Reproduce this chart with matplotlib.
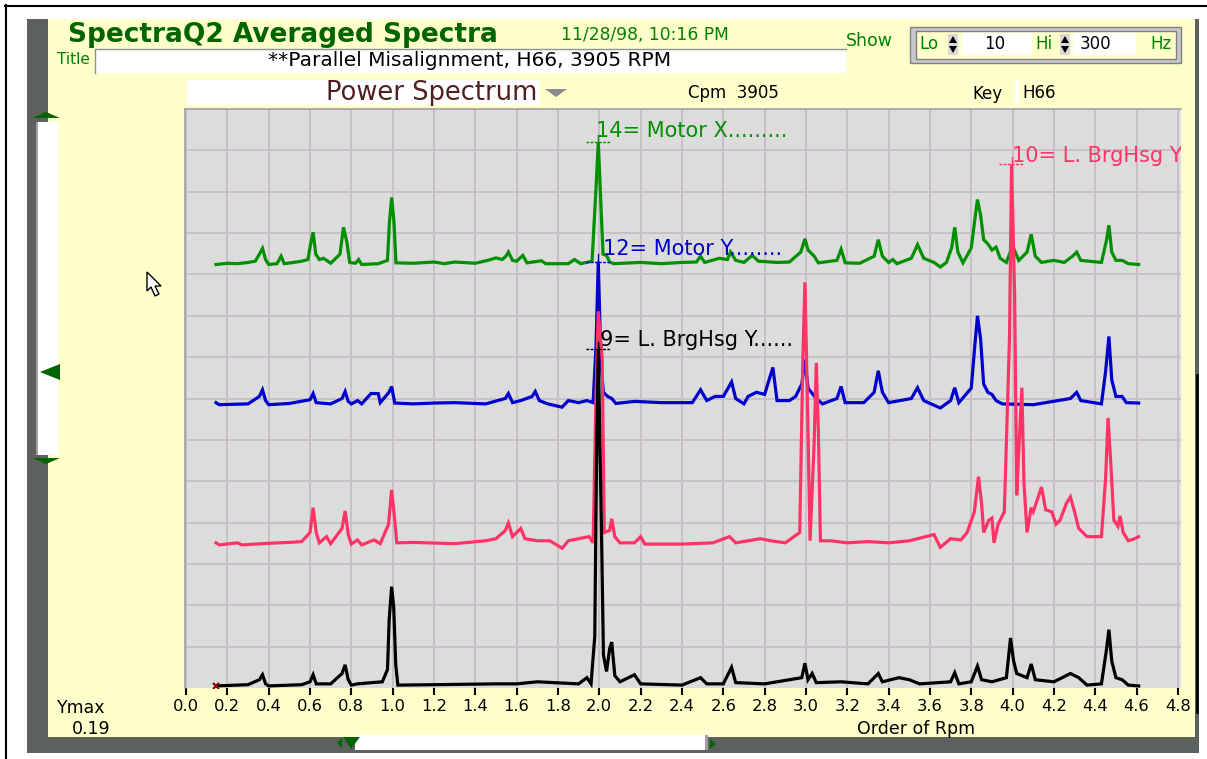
import numpy as np
import matplotlib.pyplot as plt
from matplotlib.patches import Rectangle, Polygon

# screen size in pixels (figure is drawn 1:1 at 100 dpi)
W, H = 1207, 759

YELLOW = '#ffffcc'
FRAME = '#5d615d'
DKGREEN = '#006400'
GREEN_TXT = '#008000'

TITLE = "SpectraQ2 Averaged Spectra"
STAMP = "11/28/98, 10:16 PM"
RUN_TITLE = "**Parallel Misalignment, H66, 3905 RPM"
LO_HZ, HI_HZ = "10", "300"
CPM = "3905"
KEY = "H66"
YMAX = "0.19"

# spectra: (order of rpm, amplitude in grid divisions above own baseline)
motor_x = [(0.145, 0.0), (0.20, 0.03), (0.25, 0.02), (0.30, 0.05), (0.335, 0.08), (0.355, 0.25), (0.37, 0.39),
           (0.385, 0.12), (0.40, 0.0), (0.44, 0.02), (0.46, 0.20), (0.475, 0.02), (0.52, 0.05), (0.56, 0.08),
           (0.59, 0.12), (0.603, 0.5), (0.615, 0.78), (0.628, 0.25), (0.645, 0.12), (0.665, 0.15), (0.68, 0.10),
           (0.70, 0.03), (0.745, 0.25), (0.762, 0.9), (0.778, 0.55), (0.792, 0.05), (0.82, 0.03), (0.835, 0.12),
           (0.85, 0.0), (0.93, 0.02), (0.975, 0.1), (0.984, 1.0), (0.995, 1.62), (1.006, 1.05), (1.016, 0.04),
           (1.10, 0.03), (1.20, 0.06), (1.25, 0.02), (1.30, 0.06), (1.40, 0.03), (1.46, 0.10), (1.50, 0.16),
           (1.53, 0.12), (1.548, 0.2), (1.56, 0.3), (1.58, 0.1), (1.60, 0.08), (1.63, 0.22), (1.65, 0.04),
           (1.72, 0.09), (1.74, 0.02), (1.85, 0.02), (1.88, 0.12), (1.91, 0.02), (1.965, 0.08), (1.984, 1.85),
           (1.995, 2.95), (2.008, 1.4), (2.018, 0.25), (2.035, 0.22), (2.05, 0.06), (2.07, 0.02), (2.20, 0.05),
           (2.30, 0.02), (2.40, 0.05), (2.47, 0.06), (2.49, 0.2), (2.51, 0.05), (2.58, 0.15), (2.62, 0.12),
           (2.635, 0.3), (2.66, 0.1), (2.70, 0.05), (2.74, 0.22), (2.77, 0.08), (2.86, 0.05), (2.92, 0.06),
           (2.975, 0.3), (2.995, 0.62), (3.01, 0.35), (3.04, 0.2), (3.06, 0.04), (3.15, 0.1), (3.17, 0.37),
           (3.19, 0.04), (3.26, 0.03), (3.33, 0.2), (3.35, 0.6), (3.37, 0.2), (3.40, 0.05), (3.42, 0.12),
           (3.44, 0.02), (3.51, 0.15), (3.54, 0.48), (3.57, 0.15), (3.62, 0.05), (3.65, -0.06), (3.68, 0.05),
           (3.705, 0.4), (3.72, 0.9), (3.735, 0.3), (3.76, 0.04), (3.80, 0.4), (3.815, 1.0), (3.83, 1.57),
           (3.845, 1.2), (3.86, 0.6), (3.88, 0.5), (3.90, 0.35), (3.92, 0.42), (3.94, 0.15), (3.97, 0.05),
           (4.0, 0.45), (4.03, 0.1), (4.07, 0.3), (4.09, 0.73), (4.11, 0.2), (4.14, 0.05), (4.20, 0.1),
           (4.25, 0.05), (4.29, 0.2), (4.31, 0.3), (4.33, 0.1), (4.43, 0.05), (4.455, 0.6), (4.466, 0.95),
           (4.48, 0.3), (4.50, 0.1), (4.53, 0.1), (4.56, 0.02), (4.61, 0.0)]

motor_y = [(0.145, 0.05), (0.16, 0.0), (0.30, 0.02), (0.355, 0.2), (0.37, 0.36), (0.385, 0.1), (0.40, 0.0),
           (0.50, 0.03), (0.60, 0.12), (0.615, 0.27), (0.63, 0.05), (0.70, 0.02), (0.755, 0.15), (0.77, 0.32),
           (0.785, 0.08), (0.80, 0.02), (0.83, 0.1), (0.85, 0.02), (0.895, 0.27), (0.93, 0.27), (0.94, 0.05),
           (0.982, 0.3), (0.995, 0.44), (1.01, 0.04), (1.10, 0.02), (1.20, 0.04), (1.30, 0.05), (1.45, 0.02),
           (1.545, 0.15), (1.56, 0.27), (1.58, 0.05), (1.62, 0.1), (1.675, 0.2), (1.69, 0.32), (1.71, 0.1),
           (1.75, 0.02), (1.82, -0.06), (1.85, 0.1), (1.90, 0.05), (1.94, 0.1), (1.97, 0.05), (1.984, 1.4),
           (1.995, 3.46), (2.008, 1.0), (2.02, 0.3), (2.04, 0.2), (2.06, 0.15), (2.08, 0.03), (2.17, 0.08),
           (2.30, 0.05), (2.45, 0.05), (2.49, 0.36), (2.52, 0.1), (2.56, 0.2), (2.60, 0.2), (2.64, 0.55),
           (2.66, 0.15), (2.70, 0.02), (2.72, 0.2), (2.76, 0.3), (2.80, 0.25), (2.84, 0.9), (2.86, 0.1),
           (2.92, 0.1), (2.95, 0.2), (2.98, 0.5), (2.995, 1.09), (3.01, 0.4), (3.05, 0.15), (3.08, 0.02),
           (3.15, 0.15), (3.17, 0.44), (3.19, 0.05), (3.28, 0.05), (3.33, 0.3), (3.35, 0.82), (3.37, 0.3),
           (3.40, 0.05), (3.51, 0.15), (3.54, 0.41), (3.57, 0.1), (3.65, -0.08), (3.70, 0.1), (3.72, 0.41),
           (3.74, 0.05), (3.80, 0.4), (3.815, 1.3), (3.83, 2.15), (3.845, 1.6), (3.86, 0.5), (3.88, 0.3),
           (3.90, 0.25), (3.92, 0.1), (3.95, 0.02), (4.10, 0.0), (4.28, 0.15), (4.31, 0.3), (4.33, 0.1),
           (4.43, 0.02), (4.45, 0.8), (4.466, 1.65), (4.48, 0.6), (4.50, 0.2), (4.53, 0.2), (4.55, 0.05),
           (4.61, 0.04)]

brg_x = [(0.145, 0.05), (0.16, 0.0), (0.25, 0.05), (0.27, 0.0), (0.40, 0.04), (0.50, 0.06), (0.56, 0.08),
         (0.60, 0.3), (0.615, 0.9), (0.63, 0.3), (0.645, 0.05), (0.68, 0.2), (0.70, 0.03), (0.755, 0.4),
         (0.77, 0.82), (0.785, 0.25), (0.80, 0.02), (0.83, 0.12), (0.85, 0.0), (0.91, 0.12), (0.94, 0.03),
         (0.98, 0.5), (0.995, 1.33), (1.01, 0.6), (1.02, 0.05), (1.10, 0.06), (1.30, 0.03), (1.45, 0.1),
         (1.50, 0.15), (1.545, 0.35), (1.56, 0.53), (1.58, 0.2), (1.62, 0.4), (1.64, 0.15), (1.70, 0.1),
         (1.76, 0.1), (1.82, -0.08), (1.85, 0.1), (1.90, 0.15), (1.95, 0.2), (1.97, 0.05), (1.984, 3.6),
         (1.995, 5.65), (2.014, 4.5), (2.024, 0.3), (2.05, 0.35), (2.06, 0.63), (2.075, 0.2), (2.10, 0.05),
         (2.17, 0.05), (2.20, 0.2), (2.22, 0.02), (2.40, 0.02), (2.55, 0.05), (2.63, 0.2), (2.66, 0.05),
         (2.78, 0.15), (2.83, 0.1), (2.90, 0.05), (2.97, 0.3), (2.985, 4.5), (2.995, 6.35), (3.005, 4.0),
         (3.02, 0.1), (3.04, 2.5), (3.05, 4.4), (3.06, 2.8), (3.07, 0.1), (3.12, 0.1), (3.20, 0.05),
         (3.30, 0.08), (3.40, 0.05), (3.50, 0.1), (3.62, 0.25), (3.65, -0.06), (3.70, 0.15), (3.75, 0.12),
         (3.78, 0.3), (3.815, 0.8), (3.835, 1.65), (3.85, 1.0), (3.86, 0.3), (3.885, 0.6), (3.90, 0.65),
         (3.91, 0.05), (3.93, 0.5), (3.96, 0.8), (3.985, 5.0), (3.995, 9.2), (4.01, 6.0), (4.02, 1.2),
         (4.03, 2.3), (4.045, 3.8), (4.055, 1.5), (4.07, 0.3), (4.09, 0.9), (4.10, 0.8), (4.14, 1.4),
         (4.16, 0.85), (4.19, 0.8), (4.21, 0.5), (4.23, 0.6), (4.26, 1.0), (4.28, 1.16), (4.30, 0.8),
         (4.32, 0.4), (4.36, 0.2), (4.43, 0.2), (4.45, 1.6), (4.462, 3.07), (4.475, 2.0), (4.49, 0.6),
         (4.51, 0.45), (4.52, 0.7), (4.535, 0.3), (4.56, 0.1), (4.59, 0.15), (4.61, 0.2)]

brg_y = [(0.145, 0.0), (0.30, 0.03), (0.355, 0.15), (0.37, 0.27), (0.385, 0.05), (0.40, 0.0), (0.56, 0.03),
         (0.60, 0.1), (0.615, 0.27), (0.63, 0.05), (0.70, 0.05), (0.755, 0.3), (0.77, 0.51), (0.785, 0.15),
         (0.80, 0.02), (0.83, 0.05), (0.90, 0.08), (0.95, 0.1), (0.975, 0.4), (0.983, 1.6), (0.995, 2.4),
         (1.005, 1.9), (1.015, 0.5), (1.025, 0.02), (1.20, 0.03), (1.50, 0.05), (1.60, 0.05), (1.70, 0.1),
         (1.90, 0.05), (1.94, 0.2), (1.96, 0.05), (1.978, 1.2), (1.986, 5.2), (1.995, 8.14), (2.01, 3.9),
         (2.02, 0.75), (2.035, 0.35), (2.05, 0.9), (2.06, 1.06), (2.075, 0.25), (2.10, 0.1), (2.17, 0.27),
         (2.20, 0.05), (2.40, 0.02), (2.49, 0.2), (2.52, 0.05), (2.60, 0.05), (2.64, 0.45), (2.66, 0.08),
         (2.80, 0.05), (2.98, 0.2), (2.995, 0.55), (3.01, 0.15), (3.03, 0.3), (3.05, 0.08), (3.17, 0.1),
         (3.30, 0.05), (3.35, 0.3), (3.37, 0.1), (3.45, 0.2), (3.50, 0.15), (3.55, 0.05), (3.70, 0.1),
         (3.72, 0.32), (3.74, 0.05), (3.80, 0.1), (3.83, 0.48), (3.85, 0.15), (3.90, 0.1), (3.97, 0.2),
         (3.99, 1.16), (4.005, 0.6), (4.02, 0.3), (4.07, 0.2), (4.09, 0.53), (4.11, 0.15), (4.20, 0.1),
         (4.28, 0.3), (4.30, 0.25), (4.32, 0.2), (4.36, 0.02), (4.43, 0.05), (4.455, 0.9), (4.466, 1.36),
         (4.48, 0.6), (4.50, 0.2), (4.53, 0.15), (4.56, 0.02), (4.61, 0.0)]

# waterfall: label, points, colour, baseline offset, cursor order
traces = [
    ("14= Motor X.........", motor_x, '#009000', 10.24, 1.995),
    ("12= Motor Y........", motor_y, '#0000cc', 6.85, 1.995),
    ("10= L. BrgHsg Y", brg_x, '#ff3366', 3.46, 3.995),
    ("9= L. BrgHsg Y......", brg_y, '#000000', 0.05, 1.995),
]
label_dx = {"14": -0.01, "12": 0.025, "10": 0.0, "9": 0.01}
label_dy = {"14": 0.27, "12": 0.3, "10": 0.2, "9": 0.22}

fig = plt.figure(figsize=(W / 100, H / 100), dpi=100)
fig.patch.set_facecolor('white')
bg = fig.add_axes([0, 0, 1, 1])
bg.set_xlim(0, W)
bg.set_ylim(H, 0)
bg.axis('off')


def box(x0, y0, x1, y1, fc, ec='none', lw=0):
    bg.add_patch(Rectangle((x0, y0), x1 - x0, y1 - y0, facecolor=fc, edgecolor=ec, lw=lw))


def tri(pts, fc):
    bg.add_patch(Polygon(pts, closed=True, facecolor=fc, edgecolor='none'))


# window frame
bg.plot([5, W], [6, 6], color='black', lw=1.5)
bg.plot([6, 6], [5, H], color='black', lw=1.5)
box(27, 19, 48, 753, FRAME)
box(27, 737, 1199, 753, FRAME)
box(1195, 19, 1199, 753, FRAME)
box(48, 19, 1195, 737, YELLOW)
bg.plot([1197, 1197], [375, 712], color='black', lw=2)

# left scroll bar
box(36, 122, 58, 455, 'white')
box(36, 122, 38, 455, '#a0a0a0')
tri([(33, 118), (60, 118), (46, 112)], DKGREEN)
tri([(33, 458), (60, 458), (46, 464)], DKGREEN)
tri([(40, 372), (60, 364), (60, 380)], DKGREEN)

# bottom scroll bar
box(355, 735, 705, 750, 'white')
box(705, 735, 708, 750, '#a0a0a0')
tri([(343, 737), (360, 737), (351, 749)], DKGREEN)
tri([(337, 743), (342, 738), (342, 748)], DKGREEN)
tri([(710, 739), (716, 744), (710, 749)], DKGREEN)

# header
bg.text(68, 35, TITLE, fontsize=19, fontweight='bold', color=DKGREEN, va='center', ha='left')
bg.text(561, 35, STAMP, fontsize=12.3, color=GREEN_TXT, va='center', ha='left')
bg.text(846, 41, "Show", fontsize=12.5, color=GREEN_TXT, va='center', ha='left')

box(910, 27, 1181, 63, '#c8c8c8', ec='#808080', lw=1)
box(916, 31, 1176, 59, YELLOW, ec='#808080', lw=1)
bg.text(919, 44, "Lo", fontsize=12, color=GREEN_TXT, va='center', ha='left')
bg.text(1035, 44, "Hi", fontsize=12, color=GREEN_TXT, va='center', ha='left')
bg.text(1150, 44, "Hz", fontsize=12, color=GREEN_TXT, va='center', ha='left')
for sx in (948, 1060):
    box(sx, 34, sx + 10, 55, '#d8d8d8')
    tri([(sx + 1, 43), (sx + 9, 43), (sx + 5, 36)], 'black')
    tri([(sx + 1, 46), (sx + 9, 46), (sx + 5, 53)], 'black')
box(962, 33, 1032, 55, 'white')
box(1073, 33, 1136, 55, 'white')
bg.text(1005, 44, LO_HZ, fontsize=12, color='black', va='center', ha='right')
bg.text(1080, 44, HI_HZ, fontsize=12, color='black', va='center', ha='left')

bg.text(57, 60, "Title", fontsize=11, color=GREEN_TXT, va='center', ha='left')
box(95, 49, 846, 73, 'white')
bg.plot([95, 95, 846], [73, 49, 49], color='#909090', lw=1)
bg.text(470, 61, RUN_TITLE, fontsize=14.5, color='black', va='center', ha='center')

box(187, 80, 540, 105, 'white')
bg.text(537, 93, "Power Spectrum", fontsize=18.5, color='#502020', va='center', ha='right')
tri([(545, 89), (567, 89), (556, 97)], '#8c8c8c')
bg.text(688, 93, "Cpm  " + CPM, fontsize=12, color='black', va='center', ha='left')
bg.text(972, 94, "Key", fontsize=12, color='black', va='center', ha='left')
box(1015, 80, 1019, 104, 'white')
bg.text(1022, 93, KEY, fontsize=12, color='black', va='center', ha='left')

# footer
bg.text(57, 708, "Ymax", fontsize=12.5, color='black', va='center', ha='left')
bg.text(72, 729, YMAX, fontsize=12.5, color='black', va='center', ha='left')
bg.text(916, 729, "Order of Rpm", fontsize=12.5, color='black', va='center', ha='center')

# mouse pointer
bg.add_patch(Polygon([(147, 272), (147, 291), (151, 287), (155, 296), (159, 294), (155, 286), (161, 286)],
                     closed=True, facecolor='white', edgecolor='black', lw=1, zorder=5))

# spectrum panel
ax = fig.add_axes([185 / W, (H - 688) / H, (1181 - 185) / W, (688 - 109) / H])
ax.set_facecolor('#dcdcdc')
ax.set_xlim(-0.005, 4.815)
ax.set_ylim(0, 14)
ticks = np.arange(0, 4.81, 0.2)
ax.set_xticks(ticks)
ax.set_xticklabels(["%.1f" % t for t in ticks])
ax.set_yticks(np.arange(1, 14))
ax.tick_params(axis='y', left=False, labelleft=False)
ax.tick_params(axis='x', direction='out', length=5, width=1.5, pad=3, labelsize=11.8, colors='black')
ax.grid(True, color='#c9bfc9', lw=1.4)
ax.set_axisbelow(True)
for side in ('right', 'bottom'):
    ax.spines[side].set_visible(False)
for side in ('top', 'left'):
    ax.spines[side].set_color('#a0a0a0')
    ax.spines[side].set_linewidth(1.2)

for label, pts, color, base, peak in traces:
    arr = np.array(pts)
    ax.plot(arr[:, 0], arr[:, 1] + base, color=color, lw=2.3, solid_joinstyle='miter')
    # cursor on the peak
    py = base + arr[np.argmin(np.abs(arr[:, 0] - peak)), 1]
    ax.plot([peak - 0.06, peak + 0.06], [py, py], color=color, lw=1, ls=(0, (2, 1)))
    ax.plot([peak, peak], [py - 0.18, py + 0.18], color=color, lw=1)
    key = label.split('=')[0]
    ax.text(peak + label_dx[key], py + label_dy[key], label, color=color, fontsize=15,
            va='center', ha='left', clip_on=True)

ax.plot(brg_y[0][0], brg_y[0][1] + 0.05, marker='x', color='#8b0000', ms=5, mew=1.5)

fig.savefig('out.png', dpi=100)
